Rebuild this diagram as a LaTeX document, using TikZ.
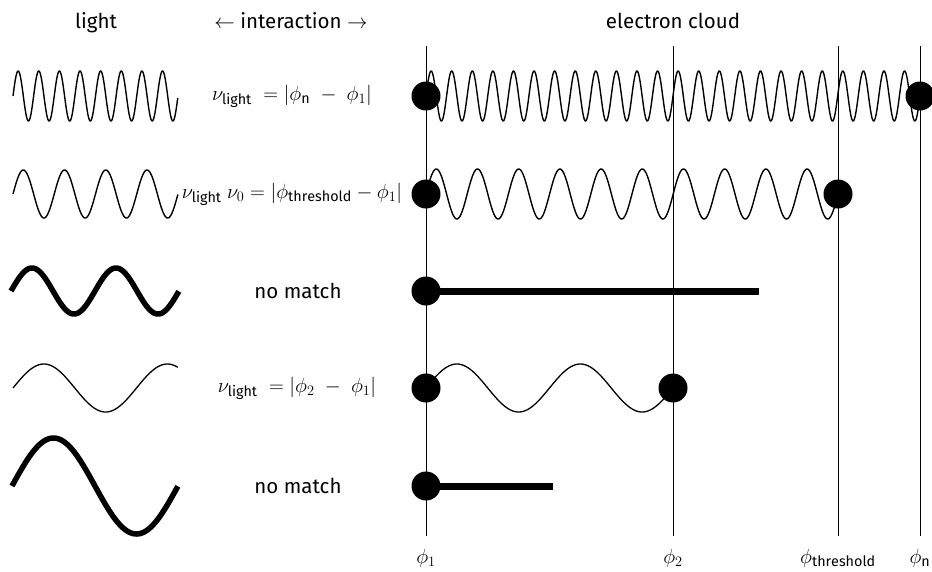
\documentclass[tikz,border=0pt]{standalone}
\usepackage{fix-cm}
\usepackage{fontspec}
\setmainfont{Fira Sans}
\begin{document}
\begin{tikzpicture}[x=1pt,y=-1pt,
  txt/.style={font=\fontsize{20.5}{24}\selectfont, inner sep=0pt},
  head/.style={txt, anchor=base},
  level/.style={line width=1pt},
  dot/.style={circle, fill=black, inner sep=0pt, minimum size=29pt},
  thinwave/.style={line width=1.4pt, line join=round},
  thickwave/.style={line width=5.5pt, line join=round},
  bar/.style={line width=7pt}]
\useasboundingbox (0,0) rectangle (932,571);
% headers
\node[head] (hlight) at (96,28) {light};
\node[head] (hinter) at (291,28) {$\leftarrow$ interaction $\rightarrow$};
\node[head] (hcloud) at (673,28) {electron cloud};
% energy levels
\foreach \n/\xx/\lab in {p1/426/{$\phi_1$}, p2/673/{$\phi_2$}, pt/838/{$\phi_{\mathrm{threshold}}$}, pn/920/{$\phi_{\mathrm{n}}$}}{
  \coordinate (\n top) at (\xx,46);
  \coordinate (\n bot) at (\xx,536);
  \draw[level] (\n top) -- (\n bot);
  \node[head] (\n lab) at (\xx,563) {\lab};
}
% row 1
\draw[thinwave] plot[domain=0:1, samples=400] ({13+165*\x},{96-25*sin(8*360*\x)});
\draw[thinwave] plot[domain=0:1, samples=900] ({426+494*\x},{96-25*sin(24*360*\x)});
\node[dot] (d11) at (426,96) {};
\node[dot] (d1n) at (920,96) {};
\node[txt] (t1) at (292,96) {$\nu_{\mathrm{light}}\; = |\phi_{\mathrm{n}} \;-\; \phi_1|$};
% row 2
\draw[thinwave] plot[domain=0:1, samples=300] ({13+165*\x},{194-24*sin(4*360*\x)});
\draw[thinwave] plot[domain=0:1, samples=500] ({426+412*\x},{194-25*sin(10*360*\x)});
\node[dot] (d21) at (426,194) {};
\node[dot] (d2t) at (838,194) {};
\node[txt] (t2) at (292,194) {$\nu_{\mathrm{light}}$ $\nu_0 = |\phi_{\mathrm{threshold}} - \phi_1|$};
% row 3
\draw[thickwave] plot[domain=0:1, samples=200] ({11+168*\x},{291-23*sin(2*360*\x)});
\node[dot] (d31) at (426,291) {};
\coordinate (e3) at (759,291);
\draw[bar] (d31.center) -- (e3);
\node[txt] (t3) at (298,291) {no match};
% row 4
\draw[line width=1.3pt] plot[domain=0:1, samples=200] ({13+165*\x},{388-24*sin(1.336*360*\x)});
\draw[line width=1.3pt] plot[domain=0:1, samples=300] ({426+247*\x},{388-24*sin(2*360*\x)});
\node[dot] (d41) at (426,388) {};
\node[dot] (d42) at (673,388) {};
\node[txt] (t4) at (297,388) {$\nu_{\mathrm{light}}\; = |\phi_2 \;-\; \phi_1|$};
% row 5
\draw[thickwave] plot[domain=0:1, samples=200] ({12+166*\x},{486-48*sin(360*\x)});
\node[dot] (d51) at (426,486) {};
\coordinate (e5) at (553,486);
\draw[bar] (d51.center) -- (e5);
\node[txt] (t5) at (298,486) {no match};
\end{tikzpicture}
\end{document}
